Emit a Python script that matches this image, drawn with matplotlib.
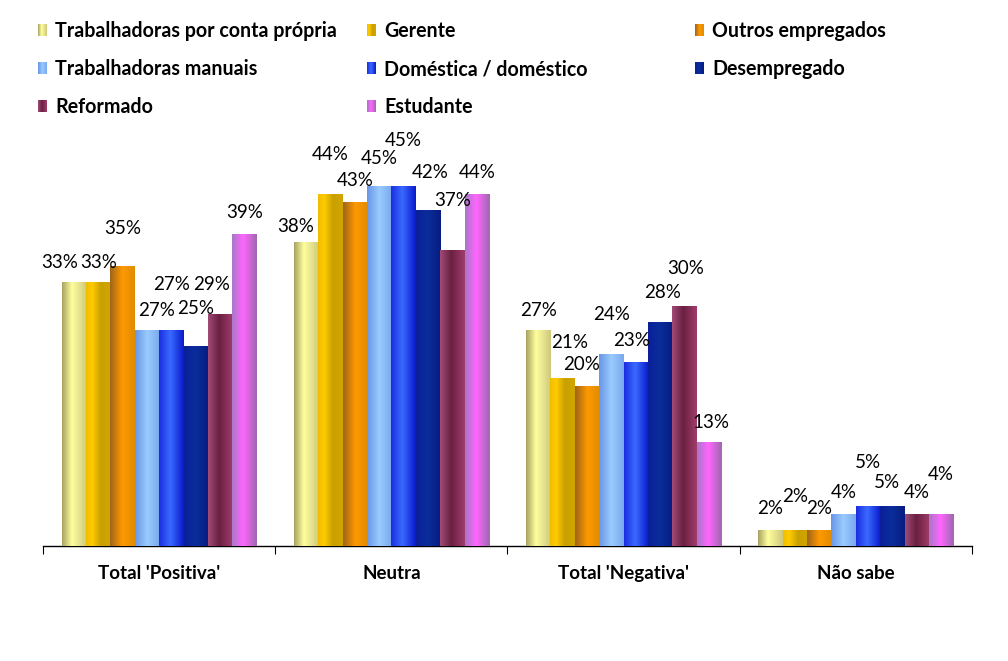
import matplotlib
matplotlib.use("Agg")
import matplotlib.pyplot as plt
import numpy as np
from matplotlib.colors import LinearSegmentedColormap

plt.rcParams['font.family'] = ['Lato', 'DejaVu Sans']

categories = ["Total 'Positiva'", "Neutra", "Total 'Negativa'", "Não sabe"]
series_names = ["Trabalhadoras por conta própria", "Gerente", "Outros empregados",
                "Trabalhadoras manuais", "Doméstica / doméstico", "Desempregado",
                "Reformado", "Estudante"]
trab_conta_propria = [33, 38, 27, 2]
gerente = [33, 44, 21, 2]
outros_empregados = [35, 43, 20, 2]
trab_manuais = [27, 45, 24, 4]
domestica = [27, 45, 23, 5]
desempregado = [25, 42, 28, 5]
reformado = [29, 37, 30, 4]
estudante = [39, 44, 13, 4]
values = [trab_conta_propria, gerente, outros_empregados, trab_manuais,
          domestica, desempregado, reformado, estudante]

# horizontal gradient stops per series
grad = [
    [(0, "#A9A262"), (0.4, "#FFFF9E"), (1, "#CFC87E")],
    [(0, "#F0BE00"), (0.25, "#FFCC00"), (0.6, "#C9A000"), (1, "#D2A600")],
    [(0, "#A06418"), (0.5, "#FF9900"), (1, "#E08C00")],
    [(0, "#6A96E6"), (0.5, "#99CCFF"), (1, "#7AA8EE")],
    [(0, "#1A2EE0"), (0.45, "#3A6AFF"), (1, "#0A1ACC")],
    [(0, "#0A1E9A"), (0.45, "#0A2E9C"), (1, "#071C80")],
    [(0, "#A04A78"), (0.45, "#6A2040"), (1, "#A03C6C")],
    [(0, "#A878C8"), (0.45, "#FF66FF"), (1, "#A068B0")],
]
cmaps = [LinearSegmentedColormap.from_list(f"g{i}", g) for i, g in enumerate(grad)]

# label offsets in pixels (dx, height above bar top) - layout only
label_off = [
    [(-14, 20), (-10, 16), (0, 20), (0, 22)],
    [(0, 20), (0, 39), (7, 36), (0, 33)],
    [(0, 37), (0, 21), (-5, 21), (0, 22)],
    [(10, 19), (0, 27), (0, 39), (0, 21)],
    [(0, 45), (0, 45), (-4, 21), (0, 43)],
    [(0, 38), (2, 37), (2, 30), (-6, 23)],
    [(-9, 29), (0, 50), (1, 37), (0, 22)],
    [(0, 21), (0, 21), (2, 20), (0, 39)],
]

fig = plt.figure(figsize=(10.08, 6.61), dpi=100)
ax = fig.add_axes([43 / 1008, 1 - 546 / 661, (972 - 43) / 1008, 400 / 661])

bw = 0.105
start = 0.08
x = np.arange(len(categories))
grad_img = np.linspace(0, 1, 64).reshape(1, -1)
for i, vals in enumerate(values):
    bars = ax.bar(x + start + bw * i, vals, width=bw, align='edge',
                  color=grad[i][1][1], linewidth=0, zorder=2)
    for j, b in enumerate(bars):
        ax.imshow(grad_img, cmap=cmaps[i], aspect='auto', zorder=3,
                  extent=(b.get_x(), b.get_x() + b.get_width(), 0, b.get_height()),
                  interpolation='bilinear')
        dx, dy = label_off[i][j]
        ax.annotate(f"{vals[j]}%", (b.get_x() + b.get_width() / 2, b.get_height()),
                    xytext=(dx, dy), textcoords='offset pixels',
                    ha='center', va='center', fontsize=13.5, color='#000000', zorder=5)
ax.set_xlim(0, 4)
ax.set_ylim(0, 50)

for s in ['top', 'right', 'left']:
    ax.spines[s].set_visible(False)
ax.spines['bottom'].set_color('#000000')
ax.spines['bottom'].set_linewidth(1.0)
ax.set_yticks([])
ax.set_xticks([0, 1, 2, 3, 4])
ax.set_xticklabels([])
ax.tick_params(axis='x', direction='out', length=6, color='#000000')
ax.set_xticks(x + 0.5, minor=True)
ax.set_xticklabels(categories, minor=True, fontsize=13.5, fontweight='bold')
ax.tick_params(axis='x', which='minor', length=0, pad=14)

# legend drawn manually
cols_x = [38, 367, 695]
rows_y = [30, 68, 106]
for k, name in enumerate(series_names):
    r, c = divmod(k, 3)
    px, py = cols_x[c], rows_y[r]
    lax = fig.add_axes([px / 1008, 1 - (py + 6) / 661, 9 / 1008, 12 / 661])
    lax.imshow(grad_img, cmap=cmaps[k], aspect='auto', extent=(0, 1, 0, 1))
    lax.set_axis_off()
    fig.text((px + 17) / 1008, 1 - (py + 1) / 661, name, fontsize=14.1, fontweight='bold',
             va='center', ha='left', color='#000000')

fig.savefig("out.png", dpi=100)
